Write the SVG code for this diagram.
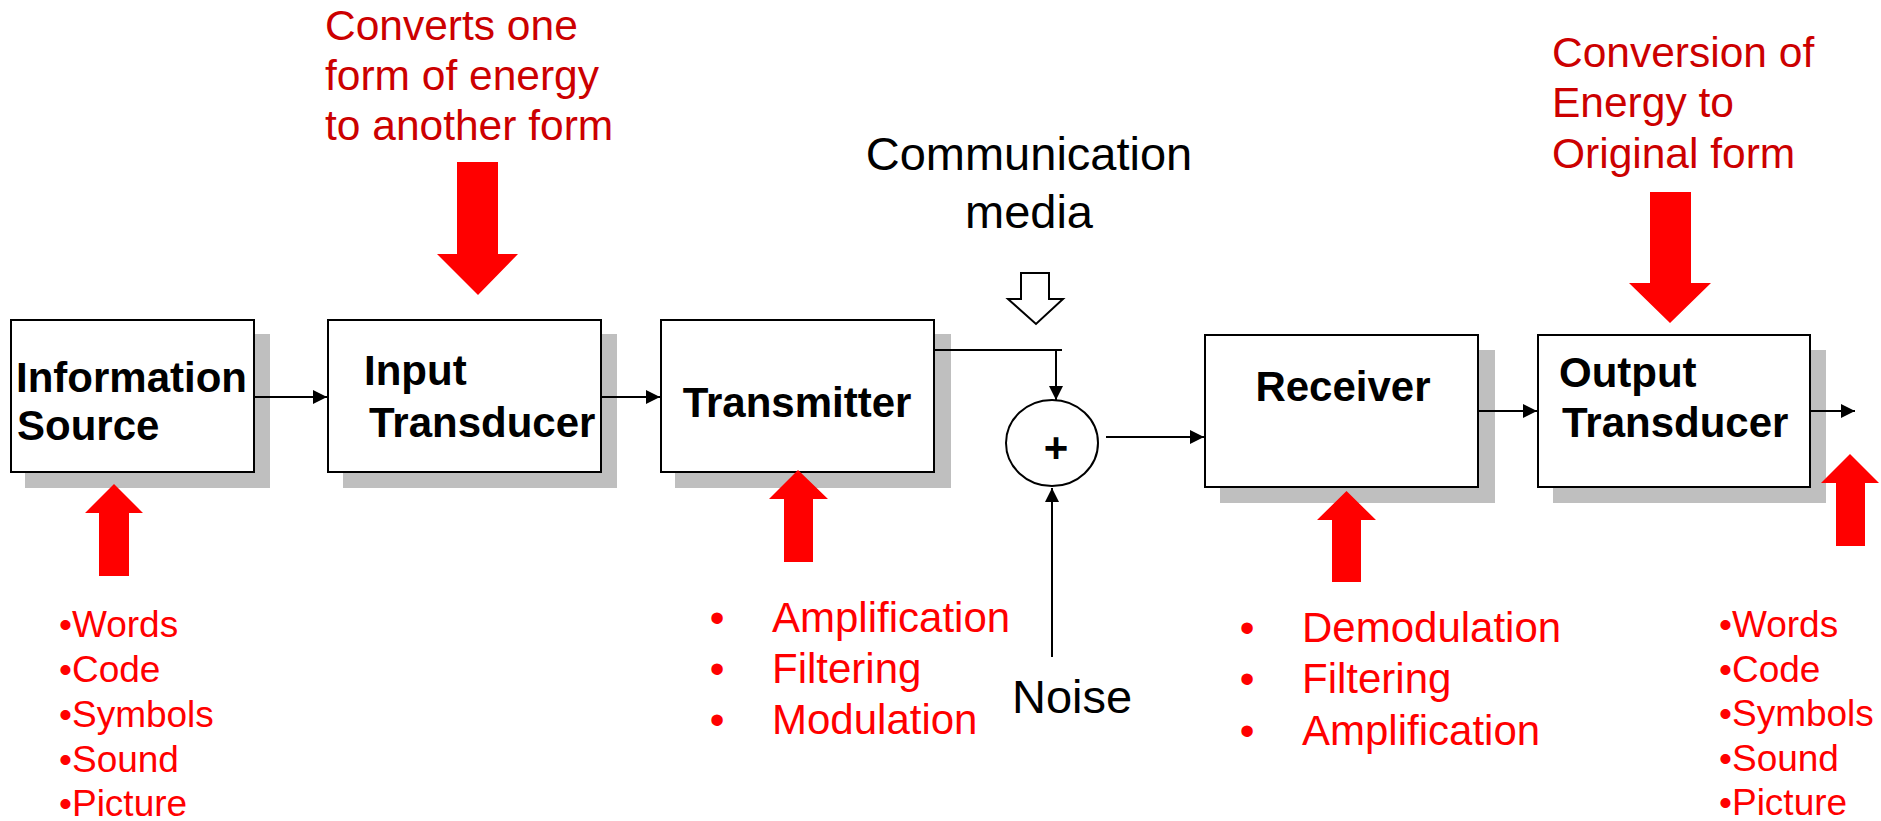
<svg xmlns="http://www.w3.org/2000/svg" width="1881" height="821" viewBox="0 0 1881 821">
<defs>
<style>
.box{fill:#fff;stroke:#000;stroke-width:2}
.shadow{fill:#BFBFBF}
.lbl{font-family:"Liberation Sans",Arial,sans-serif;font-weight:bold;font-size:42px;fill:#000}
.blk{font-family:"Liberation Sans",Arial,sans-serif;font-size:47px;fill:#000}
.note{font-family:"Liberation Sans",Arial,sans-serif;font-size:42.5px;fill:#CC0000}
.lst{font-family:"Liberation Sans",Arial,sans-serif;font-size:42px;fill:#FF0000}
.lst2{font-family:"Liberation Sans",Arial,sans-serif;font-size:37px;fill:#FF0000}
.red{fill:#FF0000}
.conn{fill:none;stroke:#000;stroke-width:2}
</style>
<marker id="ah" viewBox="0 0 10 10" refX="10" refY="5" markerWidth="8" markerHeight="7" markerUnits="strokeWidth" orient="auto">
<path d="M0,0 L10,5 L0,10 z" fill="#000"/>
</marker>
</defs>
<rect width="1881" height="821" fill="#fff"/>

<g id="info-source">
<rect class="shadow" x="25" y="334" width="245" height="154"/>
<rect class="box" x="11" y="320" width="243" height="152"/>
<text class="lbl" x="16" y="392">Information</text>
<text class="lbl" x="17" y="440">Source</text>
</g>

<g id="input-transducer">
<rect class="shadow" x="343" y="334" width="274" height="154"/>
<rect class="box" x="328" y="320" width="273" height="152"/>
<text class="lbl" x="364" y="385">Input</text>
<text class="lbl" x="369" y="437">Transducer</text>
</g>

<g id="transmitter">
<rect class="shadow" x="675" y="334" width="276" height="154"/>
<rect class="box" x="661" y="320" width="273" height="152"/>
<text class="lbl" x="797" y="417" text-anchor="middle">Transmitter</text>
</g>

<g id="adder">
<ellipse cx="1052" cy="443" rx="46" ry="43" fill="#fff" stroke="#000" stroke-width="2"/>
<text class="lbl" x="1056" y="462" text-anchor="middle" font-size="44">+</text>
</g>

<g id="receiver">
<rect class="shadow" x="1220" y="350" width="275" height="153"/>
<rect class="box" x="1205" y="335" width="273" height="152"/>
<text class="lbl" x="1343" y="401" text-anchor="middle">Receiver</text>
</g>

<g id="output-transducer">
<rect class="shadow" x="1553" y="350" width="273" height="153"/>
<rect class="box" x="1538" y="335" width="272" height="152"/>
<text class="lbl" x="1559" y="387">Output</text>
<text class="lbl" x="1562" y="437">Transducer</text>
</g>

<g id="communication-media">
<text class="blk" x="1029" y="170" text-anchor="middle">Communication</text>
<text class="blk" x="1029" y="228" text-anchor="middle">media</text>
<polygon points="1021,273 1049,273 1049,299 1063,299 1036,324 1008,299 1021,299" fill="#fff" stroke="#000" stroke-width="2"/>
</g>

<g id="noise">
<text class="blk" x="1012" y="713">Noise</text>
</g>

<g id="connectors">
<line class="conn" x1="254" y1="397" x2="327" y2="397" marker-end="url(#ah)"/>
<line class="conn" x1="601" y1="397" x2="660" y2="397" marker-end="url(#ah)"/>
<polyline class="conn" points="934,350 1062,350"/>
<line class="conn" x1="1056" y1="350" x2="1056" y2="400" marker-end="url(#ah)"/>
<line class="conn" x1="1052" y1="657" x2="1052" y2="488" marker-end="url(#ah)"/>
<line class="conn" x1="1106" y1="437" x2="1204" y2="437" marker-end="url(#ah)"/>
<line class="conn" x1="1478" y1="411" x2="1537" y2="411" marker-end="url(#ah)"/>
<line class="conn" x1="1810" y1="411" x2="1855" y2="411" marker-end="url(#ah)"/>
</g>

<g id="red-arrows">
<polygon class="red" points="114,484 143,513 129,513 129,576 99,576 99,513 85,513"/>
<polygon class="red" points="798,470 828,499 813,499 813,562 784,562 784,499 769,499"/>
<polygon class="red" points="1346.5,491 1376,520 1361,520 1361,582 1332,582 1332,520 1317,520"/>
<polygon class="red" points="1850,454 1879,483 1865,483 1865,546 1836,546 1836,483 1821,483"/>
<polygon class="red" points="457,162 498,162 498,254 518,254 478,295 437,254 457,254"/>
<polygon class="red" points="1650,192 1691,192 1691,283 1711,283 1670,323 1629,283 1650,283"/>
</g>

<g id="note-input">
<text class="note" x="325" y="40">Converts one</text>
<text class="note" x="325" y="90">form of energy</text>
<text class="note" x="325" y="140">to another form</text>
</g>

<g id="note-output">
<text class="note" x="1552" y="67">Conversion of</text>
<text class="note" x="1552" y="117">Energy to</text>
<text class="note" x="1552" y="168">Original form</text>
</g>

<g id="list-source">
<text class="lst2" x="59" y="637">•Words</text>
<text class="lst2" x="59" y="682">•Code</text>
<text class="lst2" x="59" y="727">•Symbols</text>
<text class="lst2" x="59" y="772">•Sound</text>
<text class="lst2" x="59" y="816">•Picture</text>
</g>

<g id="list-transmitter">
<text class="lst" x="717" y="632" text-anchor="middle">•</text>
<text class="lst" x="717" y="683" text-anchor="middle">•</text>
<text class="lst" x="717" y="734" text-anchor="middle">•</text>
<text class="lst" x="772" y="632">Amplification</text>
<text class="lst" x="772" y="683">Filtering</text>
<text class="lst" x="772" y="734">Modulation</text>
</g>

<g id="list-receiver">
<text class="lst" x="1247" y="642" text-anchor="middle">•</text>
<text class="lst" x="1247" y="693" text-anchor="middle">•</text>
<text class="lst" x="1247" y="745" text-anchor="middle">•</text>
<text class="lst" x="1302" y="642">Demodulation</text>
<text class="lst" x="1302" y="693">Filtering</text>
<text class="lst" x="1302" y="745">Amplification</text>
</g>

<g id="list-output">
<text class="lst2" x="1719" y="637">•Words</text>
<text class="lst2" x="1719" y="682">•Code</text>
<text class="lst2" x="1719" y="726">•Symbols</text>
<text class="lst2" x="1719" y="771">•Sound</text>
<text class="lst2" x="1719" y="815">•Picture</text>
</g>
</svg>
